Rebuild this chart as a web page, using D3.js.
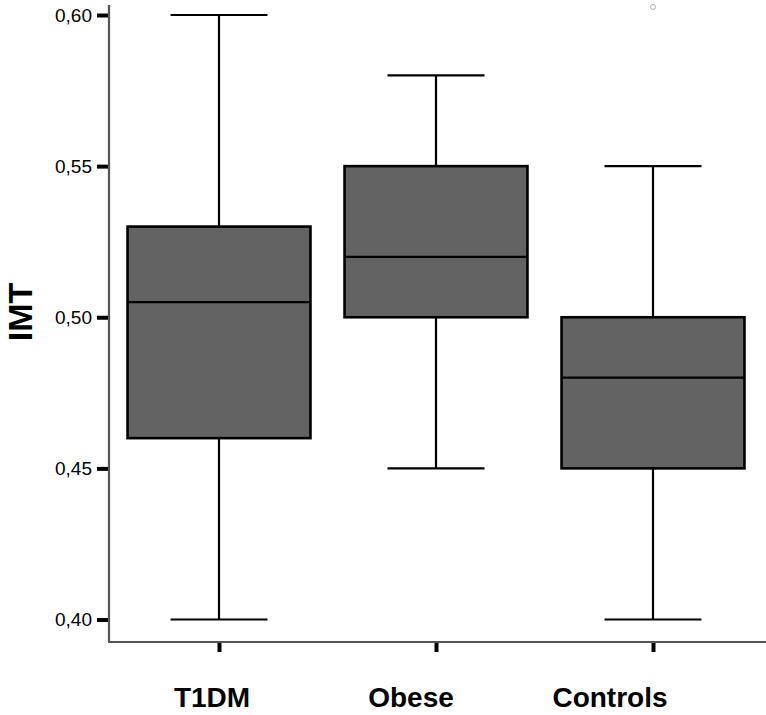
<!DOCTYPE html>
<html><head><meta charset="utf-8">
<script src="https://cdn.jsdelivr.net/npm/d3@7"></script>
<style>body{margin:0;background:#fff}svg{display:block}</style>
</head><body>
<svg id="c" width="766" height="715"></svg>
<script>
const categories = ["T1DM", "Obese", "Controls"];
const whiskerLow  = [0.40, 0.45, 0.40];
const q1          = [0.46, 0.50, 0.45];
const median      = [0.505, 0.52, 0.48];
const q3          = [0.53, 0.55, 0.50];
const whiskerHigh = [0.60, 0.58, 0.55];
const outliers = [{cat: "Controls", value: 0.603}];
const yTicks = [0.40, 0.45, 0.50, 0.55, 0.60];
const yTickLabels = ["0,40", "0,45", "0,50", "0,55", "0,60"];

const svg = d3.select("#c");
const mLeft = 109, mRight = 766, mTop = 5, mBottom = 642;
const FONT = "Liberation Sans, Arial, sans-serif";
const y = d3.scaleLinear().domain([0.40, 0.60]).range([619.5, 15]);
const x = d3.scaleBand().domain(categories).range([110.5, 761.5]).paddingInner(0.157).paddingOuter(0.0785);
const cxOf = c => x(c) + x.bandwidth() / 2;
// label positions (labels sit slightly left of ticks in the reference)
const xLab = d3.scalePoint().domain(categories).range([212, 610]);

const g = svg.append("g");
categories.forEach((c, i) => {
  const x0 = x(c), w = x.bandwidth(), cx = cxOf(c), cap = w * 0.265;
  const grp = g.append("g").attr("stroke", "#000").attr("stroke-width", 2.2);
  grp.append("line").attr("x1", cx).attr("x2", cx).attr("y1", y(whiskerHigh[i])).attr("y2", y(q3[i]));
  grp.append("line").attr("x1", cx).attr("x2", cx).attr("y1", y(q1[i])).attr("y2", y(whiskerLow[i]));
  grp.append("line").attr("x1", cx - cap).attr("x2", cx + cap).attr("y1", y(whiskerHigh[i])).attr("y2", y(whiskerHigh[i]));
  grp.append("line").attr("x1", cx - cap).attr("x2", cx + cap).attr("y1", y(whiskerLow[i])).attr("y2", y(whiskerLow[i]));
  grp.append("rect").attr("x", x0).attr("y", y(q3[i])).attr("width", w).attr("height", y(q1[i]) - y(q3[i]))
    .attr("fill", "#636363").attr("stroke-width", 2.6);
  grp.append("line").attr("x1", x0).attr("x2", x0 + w).attr("y1", y(median[i])).attr("y2", y(median[i]));
});
outliers.forEach(o => {
  g.append("circle").attr("cx", cxOf(o.cat)).attr("cy", y(o.value) + 1).attr("r", 2.5)
    .attr("fill", "none").attr("stroke", "#999").attr("stroke-width", 0.8);
});

const yAxis = d3.axisLeft(y).tickValues(yTicks).tickFormat((d, i) => yTickLabels[i]).tickSize(12).tickPadding(5);
const ya = svg.append("g").attr("transform", `translate(${mLeft},0)`).call(yAxis);
ya.select(".domain").remove();
ya.selectAll(".tick line").attr("stroke", "#000").attr("stroke-width", 4);
ya.selectAll(".tick text").attr("font-family", FONT).attr("font-size", 19).attr("fill", "#000");
svg.append("line").attr("x1", mLeft).attr("x2", mLeft).attr("y1", mTop).attr("y2", mBottom).attr("stroke", "#555").attr("stroke-width", 2.2);

const xAxis = d3.axisBottom(d3.scaleOrdinal().domain(categories).range(categories.map(cxOf)))
  .tickSize(10).tickFormat("");
const xa = svg.append("g").attr("transform", `translate(0,${mBottom})`).call(xAxis);
xa.select(".domain").remove();
xa.selectAll(".tick line").attr("stroke", "#000").attr("stroke-width", 4);
svg.append("line").attr("x1", mLeft - 1).attr("x2", mRight).attr("y1", mBottom).attr("y2", mBottom).attr("stroke", "#555").attr("stroke-width", 2.2);
svg.append("g").selectAll("text").data(categories).join("text")
  .attr("x", d => xLab(d)).attr("y", 707).attr("text-anchor", "middle")
  .attr("font-family", FONT).attr("font-size", 28).attr("font-weight", "bold").attr("fill", "#000")
  .text(d => d);

svg.append("text").attr("transform", `translate(32,312) rotate(-90)`).attr("text-anchor", "middle")
  .attr("font-family", FONT).attr("font-size", 34).attr("font-weight", "bold").text("IMT");
</script>
</body></html>
